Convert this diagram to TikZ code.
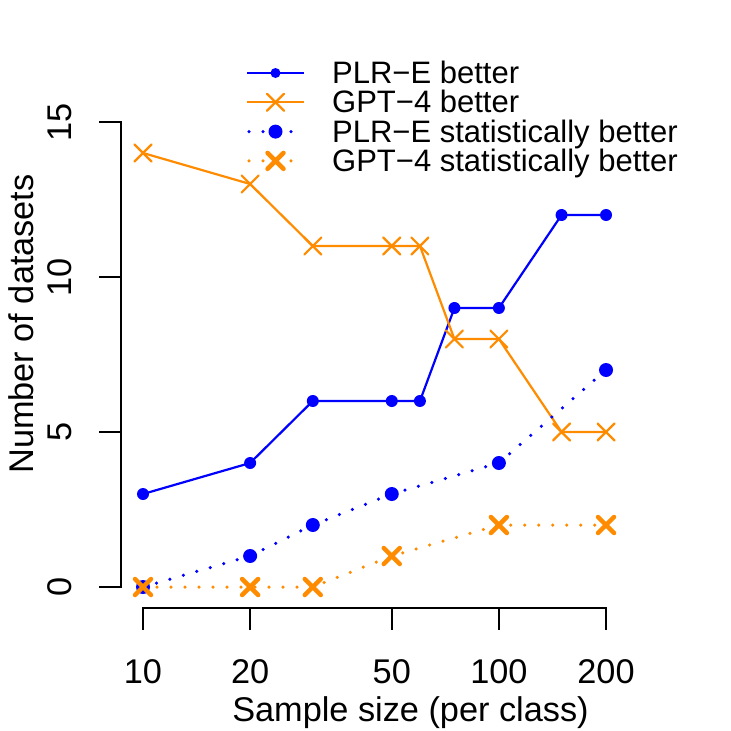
\documentclass[tikz,border=0pt]{standalone}
\usepackage{fontspec}
\setmainfont{Liberation Sans}
\definecolor{plrblue}{RGB}{0,0,255}
\definecolor{gptorange}{RGB}{255,140,0}
\tikzset{
  axisline/.style={line width=2pt, black, line cap=rect},
  betterline/.style={line width=2.2pt, line join=round},
  statline/.style={line width=3.5pt, line cap=round, dash pattern=on 0pt off 14pt},
  bigfont/.style={font=\fontsize{34.3}{34.3}\selectfont, inner sep=0pt},
  legfont/.style={font=\fontsize{31}{31}\selectfont, inner sep=0pt, anchor=base west},
  thinx/.pic={\draw[line width=2.2pt, line cap=round] (-8.5,-8.5) -- (8.5,8.5) (-8.5,8.5) -- (8.5,-8.5);},
  thickx/.pic={\draw[line width=4.5pt, line cap=round] (-8,-8) -- (8,8) (-8,8) -- (8,-8);},
}
\begin{document}
\begin{tikzpicture}[x=1pt,y=-1pt]
\useasboundingbox (0,0) rectangle (731,731);
% data coordinates
\foreach \n/\v [count=\i] in {10/3,20/4,30/6,50/6,60/6,75/9,100/9,150/12,200/12}
  \coordinate (pa\i) at ({143+355.9*log10(\n/10)},{587-31*\v});
\foreach \n/\v [count=\i] in {10/14,20/13,30/11,50/11,60/11,75/8,100/8,150/5,200/5}
  \coordinate (ga\i) at ({143+355.9*log10(\n/10)},{587-31*\v});
\foreach \n/\v [count=\i] in {10/0,20/1,30/2,50/3,100/4,200/7}
  \coordinate (ps\i) at ({143+355.9*log10(\n/10)},{587-31*\v});
\foreach \n/\v [count=\i] in {10/0,20/0,30/0,50/1,100/2,200/2}
  \coordinate (gs\i) at ({143+355.9*log10(\n/10)},{587-31*\v});

% axes
\coordinate (yb) at (121,587); \coordinate (yt) at (121,122);
\draw[axisline] (yb) -- (yt);
\foreach \v in {0,5,10,15} {
  \draw[axisline] (121,{587-31*\v}) -- (100,{587-31*\v});
  \node[bigfont, rotate=90, anchor=base] (yl\v) at (71.7,{587-31*\v}) {\v};
}
\coordinate (xl) at (143,608); \coordinate (xr) at (606,608);
\draw[axisline] (xl) -- (xr);
\foreach \n in {10,20,50,100,200} {
  \draw[axisline] ({143+355.9*log10(\n/10)},608) -- ({143+355.9*log10(\n/10)},629);
  \node[bigfont, anchor=base] (xt\n) at ({143+355.9*log10(\n/10)},683) {\n};
}
\node[bigfont, anchor=base] (xlab) at (410.5,721.5) {Sample size (per class)};
\node[bigfont, rotate=90, anchor=base] (ylab) at (33.3,324) {Number of datasets};

% PLR-E better
\draw[plrblue, betterline] (pa1) \foreach \i in {2,...,9}{ -- (pa\i)};
\foreach \i in {1,...,9} \fill[plrblue] (pa\i) circle[radius=6pt];
% GPT-4 better
\draw[gptorange, betterline] (ga1) \foreach \i in {2,...,9}{ -- (ga\i)};
\foreach \i in {1,...,9} \pic[gptorange] at (ga\i) {thinx};
% PLR-E stat
\draw[plrblue, statline] (ps1) \foreach \i in {2,...,6}{ -- (ps\i)};
\foreach \i in {1,...,6} \fill[plrblue] (ps\i) circle[radius=7pt];
% GPT-4 stat
\draw[gptorange, statline] (gs1) \foreach \i in {2,...,6}{ -- (gs\i)};
\foreach \i in {1,...,6} \pic[gptorange] at (gs\i) {thickx};

% legend
\coordinate (l1a) at (247,73);    \coordinate (l1b) at (304,73);    \coordinate (l1m) at (275.5,73);
\coordinate (l2a) at (247,102.3); \coordinate (l2b) at (304,102.3); \coordinate (l2m) at (275.5,102.3);
\coordinate (l3a) at (249,131.6); \coordinate (l3b) at (304,131.6); \coordinate (l3m) at (275.5,131.6);
\coordinate (l4a) at (249,160.9); \coordinate (l4b) at (304,160.9); \coordinate (l4m) at (275.5,160.9);
\draw[plrblue, betterline] (l1a) -- (l1b);
\fill[plrblue] (l1m) circle[radius=5pt];
\draw[gptorange, betterline] (l2a) -- (l2b);
\pic[gptorange] at (l2m) {thinx};
\draw[plrblue, statline] (l3a) -- (l3b);
\fill[plrblue] (l3m) circle[radius=7pt];
\draw[gptorange, statline] (l4a) -- (l4b);
\pic[gptorange] at (l4m) {thickx};
\node[legfont] (t1) at (332,83.5) {PLR−E better};
\node[legfont] (t2) at (332,112.8) {GPT−4 better};
\node[legfont] (t3) at (332,142.1) {PLR−E statistically better};
\node[legfont] (t4) at (332,171.4) {GPT−4 statistically better};
\end{tikzpicture}
\end{document}
